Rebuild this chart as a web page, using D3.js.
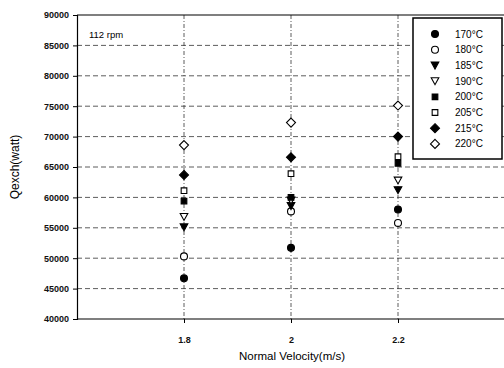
<!DOCTYPE html>
<html>
<head>
<meta charset="utf-8">
<script src="https://cdn.jsdelivr.net/npm/d3@7"></script>
<style>
  body { margin: 0; background: #fff; }
  svg { display: block; font-family: Arial, "Liberation Sans", sans-serif; }
</style>
</head>
<body>
<svg id="chart" width="504" height="368"></svg>
<script>
// data
const velocities = [1.8, 2.0, 2.2];
const seriesNames = ['170°C', '180°C', '185°C', '190°C', '200°C', '205°C', '215°C', '220°C'];
const q170 = [46700, 51700, 58000];
const q180 = [50300, 57700, 55800];
const q185 = [55100, 58600, 61200];
const q190 = [56800, 59500, 62800];
const q200 = [59400, 60000, 65600];
const q205 = [61100, 63900, 66700];
const q215 = [63700, 66600, 70000];
const q220 = [68600, 72300, 75100];
const seriesValues = [q170, q180, q185, q190, q200, q205, q215, q220];
const yTicks = d3.range(40000, 90001, 5000);
const xTicks = [1.8, 2, 2.2];

// marker style per series: [shape, filled]
const markers = [
  ['circle', true], ['circle', false],
  ['triangleDown', true], ['triangleDown', false],
  ['square', true], ['square', false],
  ['diamond', true], ['diamond', false]
];

const svg = d3.select('#chart');
const margin = { left: 77, top: 15, bottom: 49 };
const plotBottom = 368 - margin.bottom;

const x = d3.scaleLinear().domain([1.6, 2.4]).range([margin.left, 505]);
const y = d3.scaleLinear().domain([40000, 90000]).range([plotBottom, margin.top]);

// gridlines
const grid = svg.append('g').attr('stroke', '#333').attr('stroke-width', 0.8)
  .attr('stroke-dasharray', '5,3');
grid.selectAll('.hg').data(yTicks.slice(1, -1)).join('line')
  .attr('x1', margin.left).attr('x2', 504)
  .attr('y1', d => y(d)).attr('y2', d => y(d));
grid.selectAll('.vg').data(xTicks).join('line')
  .attr('x1', d => x(d)).attr('x2', d => x(d))
  .attr('y1', margin.top).attr('y2', plotBottom)
  .attr('stroke-dasharray', '4,2,1,2');

// frame lines
svg.append('line').attr('x1', margin.left).attr('x2', 504)
  .attr('y1', margin.top).attr('y2', margin.top).attr('stroke', '#000').attr('stroke-width', 1.2);
svg.append('line').attr('x1', margin.left).attr('x2', 504)
  .attr('y1', plotBottom).attr('y2', plotBottom).attr('stroke', '#000').attr('stroke-width', 1.2);

// axes
const yAxis = svg.append('g').attr('transform', `translate(${margin.left},0)`)
  .call(d3.axisLeft(y).tickValues(yTicks).tickSize(4).tickPadding(4).tickFormat(d3.format('d')));
yAxis.selectAll('text').attr('font-size', 9).attr('font-weight', 'bold').attr('fill', '#111');
yAxis.select('.domain').attr('stroke-width', 1.2);

const xAxis = svg.append('g').attr('transform', `translate(0,${plotBottom})`)
  .call(d3.axisBottom(x).tickValues(xTicks).tickSize(4).tickPadding(14).tickFormat(d3.format('')));
xAxis.select('.domain').remove();
xAxis.selectAll('text').attr('font-size', 9).attr('font-weight', 'bold').attr('fill', '#111');

// axis titles
svg.append('text').attr('x', 292).attr('y', 360).attr('text-anchor', 'middle')
  .attr('font-size', 11.5).text('Normal Velocity(m/s)');
svg.append('text').attr('transform', 'translate(19,167) rotate(-90)').attr('text-anchor', 'middle')
  .attr('font-size', 12).text('Qexch(watt)');

svg.append('text').attr('x', 89).attr('y', 38).attr('font-size', 9.5).text('112 rpm');

function symbolFor(shape) {
  if (shape === 'circle') return d3.symbol(d3.symbolCircle, 38)();
  if (shape === 'square') return d3.symbol(d3.symbolSquare, 32)();
  if (shape === 'diamond') return 'M0,-4.5L4.5,0L0,4.5L-4.5,0Z';
  return 'M-3.8,-3.3L3.8,-3.3L0,3.6Z';
}

function drawMarker(g, i) {
  const [shape, filled] = markers[i];
  g.append('path').attr('d', symbolFor(shape))
    .attr('fill', filled ? '#000' : '#fff')
    .attr('stroke', '#000').attr('stroke-width', 1.1);
}

// points
seriesValues.forEach((vals, i) => {
  svg.append('g').selectAll('g').data(vals).join('g')
    .attr('transform', (d, j) => `translate(${x(velocities[j])},${y(d)})`)
    .each(function () { drawMarker(d3.select(this), i); });
});

// legend
const legend = svg.append('g');
legend.append('rect').attr('x', 413).attr('y', 18).attr('width', 89).attr('height', 141)
  .attr('fill', '#fff').attr('stroke', '#000').attr('stroke-width', 1.5);
seriesNames.forEach((name, i) => {
  const row = legend.append('g').attr('transform', `translate(435,${34 + i * 15.7})`);
  drawMarker(row, i);
  row.append('text').attr('x', 20).attr('y', 3.5).attr('font-size', 10).text(name);
});
</script>
</body>
</html>
